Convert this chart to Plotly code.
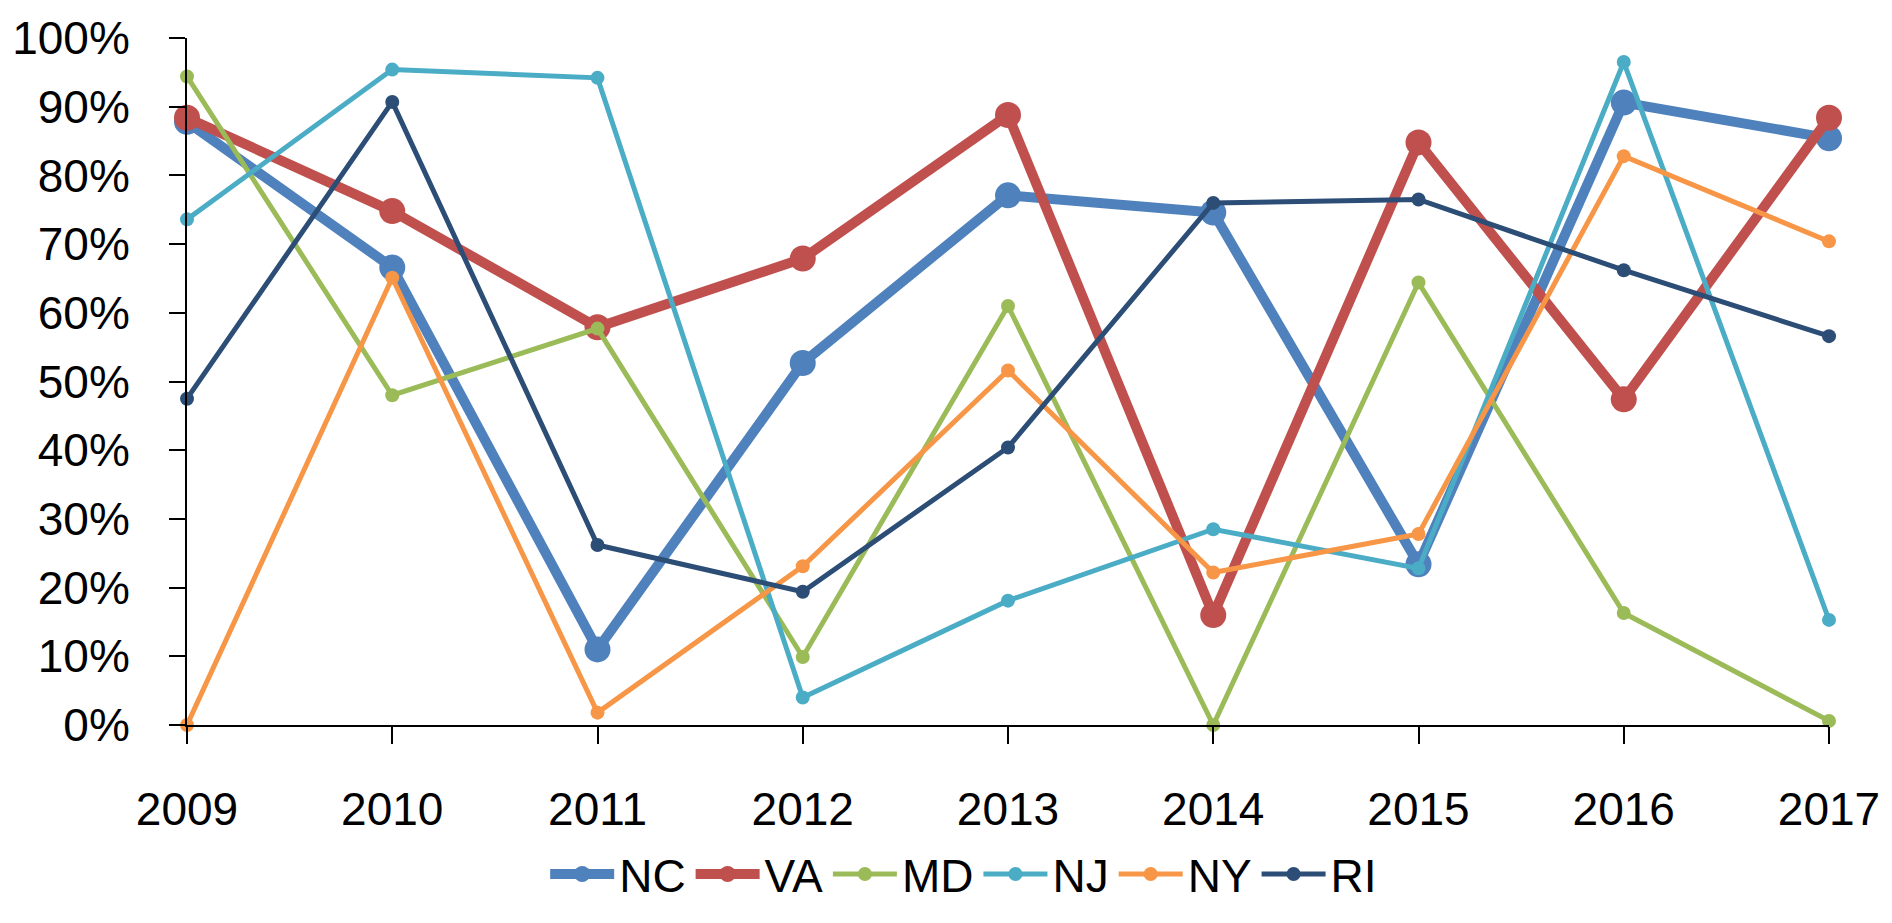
import plotly.graph_objects as go

years = [2009, 2010, 2011, 2012, 2013, 2014, 2015, 2016, 2017]

nc = [0.878, 0.666, 0.110, 0.527, 0.771, 0.746, 0.234, 0.906, 0.854]
va = [0.884, 0.748, 0.579, 0.679, 0.888, 0.160, 0.848, 0.474, 0.884]
md = [0.944, 0.480, 0.577, 0.099, 0.610, 0.000, 0.644, 0.163, 0.006]
nj = [0.736, 0.954, 0.942, 0.040, 0.181, 0.285, 0.228, 0.965, 0.153]
ny = [0.000, 0.651, 0.018, 0.231, 0.516, 0.222, 0.278, 0.828, 0.704]
ri = [0.475, 0.907, 0.262, 0.194, 0.404, 0.760, 0.765, 0.662, 0.566]

series = [
    ("NC", nc, "#4F81BD", True),
    ("VA", va, "#C0504D", True),
    ("MD", md, "#9BBB59", False),
    ("NJ", nj, "#4BACC6", False),
    ("NY", ny, "#F79646", False),
    ("RI", ri, "#2C4D75", False),
]

fig = go.Figure()
for name, vals, color, thick in series:
    fig.add_trace(go.Scatter(
        x=years, y=vals, name=name, mode="lines+markers",
        line=dict(color=color, width=10 if thick else 5),
        marker=dict(color=color, size=26 if thick else 14),
        cliponaxis=False, hoverinfo="skip",
    ))

font = dict(family="Liberation Sans, Arial, sans-serif", size=46, color="black")

fig.update_layout(
    width=1892, height=923,
    margin=dict(l=177, r=60, t=32, b=176),
    paper_bgcolor="white", plot_bgcolor="white",
    font=font,
    showlegend=True,
    legend=dict(orientation="h", x=0.473, xanchor="center", y=-0.217, yanchor="middle",
                font=font, itemwidth=64, tracegroupgap=0,
                bgcolor="rgba(0,0,0,0)"),
)
fig.update_xaxes(
    range=[2009, 2017], tickvals=years, ticktext=[str(y) for y in years],
    showline=True, linecolor="black", linewidth=2,
    ticks="outside", ticklen=17, tickwidth=2, tickcolor="black",
    showgrid=False, zeroline=False, ticklabelstandoff=26,
    ticklabeloverflow="allow", tickfont=font,
)
fig.update_yaxes(
    range=[0, 1], dtick=0.1, tickformat=".0%",
    showline=True, linecolor="black", linewidth=2,
    ticks="outside", ticklen=16, tickwidth=2, tickcolor="black",
    showgrid=False, zeroline=False, ticklabelstandoff=30,
    ticklabeloverflow="allow", tickfont=font,
)

fig.write_html(
    "out.html",
    config={"displayModeBar": False, "staticPlot": True},
    post_script="document.body.style.margin='0';document.body.style.overflow='hidden';",
)
